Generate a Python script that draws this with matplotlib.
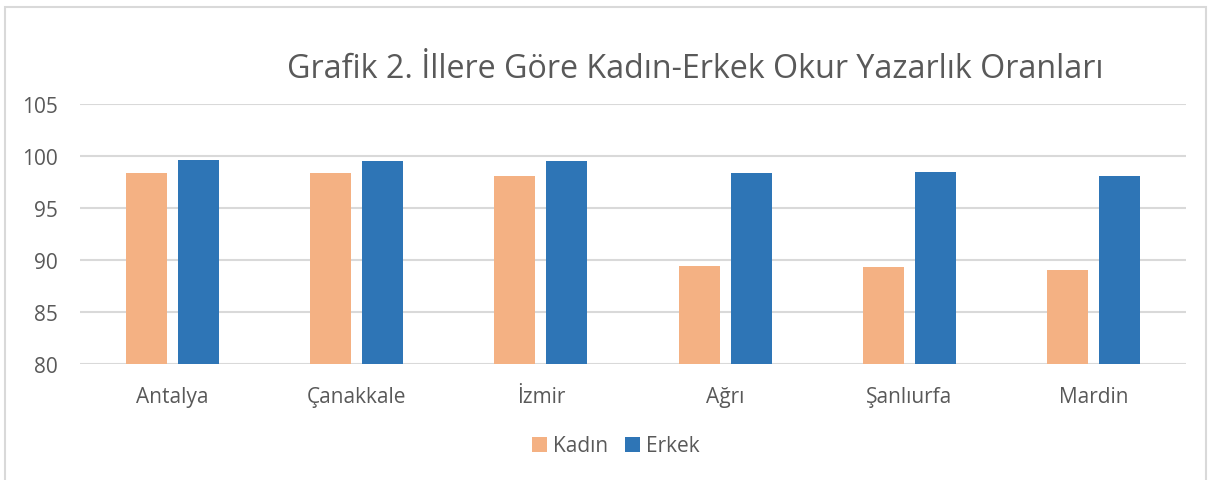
import matplotlib
matplotlib.use("agg")
import matplotlib.pyplot as plt
from matplotlib.patches import Rectangle
import numpy as np

plt.rcParams['font.family'] = ['Open Sans', 'DejaVu Sans']

# veriler
iller = ["Antalya", "Çanakkale", "İzmir", "Ağrı", "Şanlıurfa", "Mardin"]
kadin = [98.4, 98.4, 98.1, 89.4, 89.3, 89.0]
erkek = [99.6, 99.5, 99.5, 98.4, 98.5, 98.1]

W, H = 1215, 481
fig = plt.figure(figsize=(W / 100, H / 100), dpi=100)

# dis cerceve
fig.patches.append(Rectangle((5 / W, -0.1), 1201 / W, 1 - 8 / H + 0.1,
                             transform=fig.transFigure, fill=False,
                             edgecolor="#D9D9D9", linewidth=1.5))

ax = fig.add_axes([80 / W, 1 - 365 / H, (1186 - 80) / W, (365 - 105) / H])

x = np.arange(len(iller))
genislik = 0.223
ax.bar(x - 0.141, kadin, genislik, color="#F4B183", label="Kadın", zorder=3)
ax.bar(x + 0.141, erkek, genislik, color="#2E75B6", label="Erkek", zorder=3)

ax.set_xlim(-0.5, len(iller) - 0.5)
ax.set_ylim(80, 105)
ax.set_yticks(range(80, 106, 5))
ax.set_xticks(x)
ax.set_xticklabels(iller)
ax.grid(axis="y", color="#D9D9D9", linewidth=1.5, zorder=0)
for s in ax.spines.values():
    s.set_visible(False)
ax.tick_params(length=0, labelsize=15, colors="#595959")
ax.tick_params(axis="x", pad=16)
ax.tick_params(axis="y", pad=16)

fig.text(695 / W, 1 - 70 / H, "Grafik 2. İllere Göre Kadın-Erkek Okur Yazarlık Oranları",
         ha="center", va="center", fontsize=23.2, color="#595959")

fig.legend(loc="center", bbox_to_anchor=(616 / W, 1 - 447 / H), ncol=2,
           frameon=False, fontsize=15, labelcolor="#595959",
           handlelength=0.7, handleheight=0.7, handletextpad=0.3, columnspacing=0.8)

fig.savefig("out.png", dpi=100, facecolor="white")
